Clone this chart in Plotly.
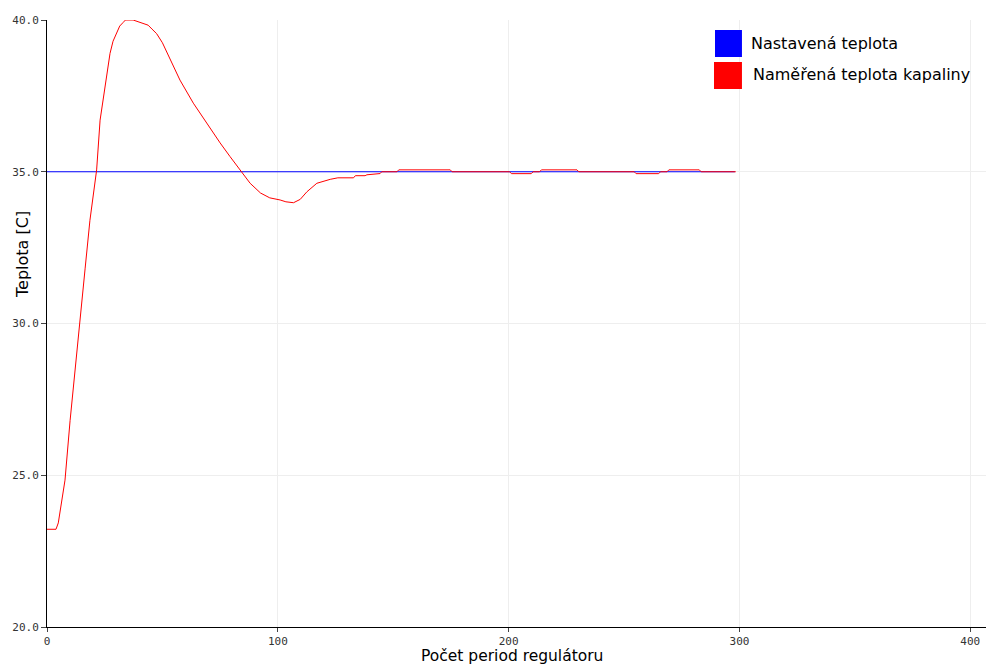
import plotly.graph_objects as go

# Setpoint series
set_x = [0, 298]
set_y = [35.0, 35.0]

# Measured liquid temperature
meas_x = [0, 3.9, 4.9, 7.1, 7.8, 10, 12.1, 14.3, 16.5, 18.6, 20.8, 21.5, 23, 25.1, 27.3,
          28.6, 30.2, 31.5, 33, 34, 37.3, 39.5, 40.3, 43.8, 45.5, 47.5, 50, 52.8, 57.6,
          63.4, 69.2, 75, 79.3, 83.7, 88, 92.5, 96.5, 101, 103.5, 106.8, 109.7,
          112.6, 116.9, 122.7, 126, 132.8, 133.6, 137.8, 138.6, 144.3, 145, 151.6, 152.4,
          174.7, 175.5, 200.4, 201.2, 209.8, 210.6, 213.4, 214.2, 229.6, 230.4, 254.4,
          255.2, 265, 265.8, 268.6, 269.4, 282.6, 283.4, 298.4]
meas_y = [23.22, 23.22, 23.43, 24.4, 24.84, 26.8, 28.5, 30.1, 31.8, 33.4, 34.8, 35.06,
          36.7, 37.8, 38.9, 39.3, 39.57, 39.8, 39.92, 40.0, 40.0, 39.94, 39.9, 39.83,
          39.7, 39.55, 39.25, 38.79, 38.02, 37.26, 36.6, 35.95, 35.5, 35.06,
          34.62, 34.3, 34.14, 34.07, 34.01, 33.98, 34.09, 34.34, 34.62, 34.75, 34.8,
          34.8, 34.87, 34.87, 34.9, 34.94, 35.0, 35.0, 35.0625, 35.0625, 35.0, 35.0,
          34.9375, 34.9375, 35.0, 35.0, 35.0625, 35.0625, 35.0, 35.0, 34.9375, 34.9375,
          35.0, 35.0, 35.0625, 35.0625, 35.0, 35.0]

x_ticks = [0, 100, 200, 300, 400]
y_ticks = [20, 25, 30, 35, 40]

legend_names = ["Nastavená teplota", "Naměřená teplota kapaliny"]
colors = ["#0000ff", "#ff0000"]

fig = go.Figure()
fig.add_trace(go.Scatter(x=set_x, y=set_y, mode="lines", name=legend_names[0],
                         line=dict(color=colors[0], width=1), showlegend=False))
fig.add_trace(go.Scatter(x=meas_x, y=meas_y, mode="lines", name=legend_names[1],
                         line=dict(color=colors[1], width=1), showlegend=False))

axis_common = dict(showline=True, linecolor="#000000", linewidth=1, ticks="outside",
                   tickcolor="#444444", showgrid=True, gridcolor="#eeeeee",
                   zeroline=False,
                   tickfont=dict(family="DejaVu Sans Mono", size=11, color="#333333"))

fig.update_layout(
    width=987, height=664,
    margin=dict(l=47, r=1, t=20, b=37),
    paper_bgcolor="white", plot_bgcolor="white",
    xaxis=dict(range=[0, 406.8], tickvals=x_ticks, ticktext=[str(v) for v in x_ticks],
               ticklen=4, **axis_common),
    yaxis=dict(range=[20, 40], tickvals=y_ticks, tickformat=".1f", ticklen=5,
               **axis_common),
)

# Legend drawn as swatches + text
fig.add_shape(type="rect", xref="paper", yref="paper", x0=0.7114, x1=0.7401,
              y0=0.939, y1=0.9835, fillcolor=colors[0], line=dict(width=0))
fig.add_shape(type="rect", xref="paper", yref="paper", x0=0.7103, x1=0.7401,
              y0=0.8863, y1=0.9308, fillcolor=colors[1], line=dict(width=0))
fig.add_annotation(xref="paper", yref="paper", x=0.7476, y=0.962, text=legend_names[0],
                   showarrow=False, xanchor="left", yanchor="middle",
                   font=dict(family="DejaVu Sans", size=16, color="#000000"))
fig.add_annotation(xref="paper", yref="paper", x=0.7497, y=0.911, text=legend_names[1],
                   showarrow=False, xanchor="left", yanchor="middle",
                   font=dict(family="DejaVu Sans", size=16, color="#000000"))

# Axis titles
fig.add_annotation(xref="paper", yref="paper", x=0, xshift=-24, y=0.6129,
                   text="Teplota [C]", textangle=-90, showarrow=False,
                   xanchor="center", yanchor="middle",
                   font=dict(family="DejaVu Sans", size=16, color="#000000"))
fig.add_annotation(xref="paper", yref="paper", x=0.4952, y=0, yshift=-29,
                   text="Počet period regulátoru", showarrow=False, borderpad=0,
                   xanchor="center", yanchor="middle",
                   font=dict(family="DejaVu Sans", size=15.5, color="#000000"))

fig.write_html("out.html")
